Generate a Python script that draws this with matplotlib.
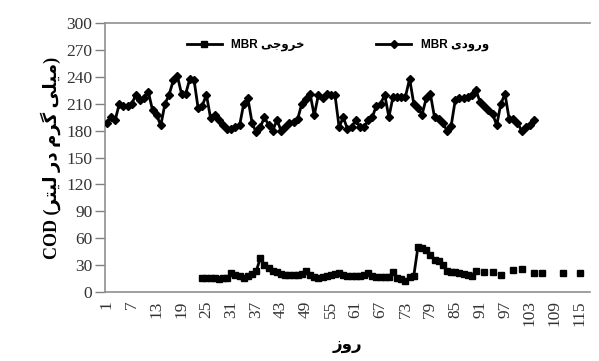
import numpy as np
import matplotlib
matplotlib.use("Agg")
import matplotlib.pyplot as plt

# ---------------- data ----------------
days = list(range(1, 118))
tick_days = list(range(1, 116, 6))
y_ticks = list(range(0, 301, 30))

influent = [189, 195, 192, 210, 207, 208, 210, 220, 214, 216,
            223, 203, 197, 186, 210, 220, 236, 241, 221, 221,
            238, 237, 205, 208, 220, 194, 197, 192, 186, 182,
            182, 184, 186, 210, 216, 189, 178, 184, 195, 186,
            180, 192, 180, 184, 189, 190, 193, 210, 215, 221,
            197, 220, 216, 221, 220, 220, 184, 195, 182, 184,
            192, 184, 184, 192, 195, 208, 210, 220, 195, 218,
            218, 218, 218, 238, 210, 205, 198, 216, 221, 195,
            193, 189, 180, 185, 214, 216, 217, 218, 220, 225,
            212, 208, 203, 199, 186, 210, 221, 193, 193, 189,
            180, 184, 186, 192]

effluent_start = 24
effluent_cont = [16, 16, 16, 16, 14, 16, 16, 21, 19, 18,
                 16, 18, 20, 23, 38, 30, 27, 24, 22, 20,
                 19, 19, 19, 19, 20, 24, 19, 17, 16, 17,
                 18, 19, 20, 21, 19, 18, 18, 18, 18, 19,
                 21, 18, 17, 17, 17, 17, 22, 16, 14, 12,
                 17, 18, 50, 49, 47, 41, 36, 35, 30, 24,
                 22, 22, 21, 20, 19, 18, 24]
effluent_extra_days = [92, 94, 96, 99, 101, 104, 106, 111, 115]
effluent_extra_vals = [22, 22, 19, 25, 26, 21.5, 21, 21.5, 21.5]

inf_series = np.full(len(days), np.nan)
inf_series[:len(influent)] = influent
eff_series = np.full(len(days), np.nan)
eff_series[effluent_start - 1:effluent_start - 1 + len(effluent_cont)] = effluent_cont
for d, v in zip(effluent_extra_days, effluent_extra_vals):
    eff_series[d - 1] = v

# Persian labels (presentation forms in visual order)
lbl_in = "MBR " + "\uFEEF\uFEA9\uFEED\uFEAD\uFEED"        # ورودی MBR
lbl_out = "MBR " + "\uFEF0\uFE9F\uFEED\uFEAE\uFEA7"       # خروجی MBR
x_label = "\uFEAF\uFEED\uFEAD"                            # روز
y_label = ("COD (" + "\uFEAE\uFE98\uFEF4\uFEDF" + " " + "\uFEAD\uFEA9" + " "
           + "\uFEE1\uFEAE\uFB94" + " " + "\uFEF0\uFEE0\uFEF4\uFEE3" + ")")

# ---------------- figure ----------------
fig = plt.figure(figsize=(5.99, 3.61), dpi=100)
ax = fig.add_axes([0.175, 0.191, 0.81, 0.745])

ax.plot(days, eff_series, color="black", lw=2.0, marker="s", ms=4.0,
        label=lbl_out, zorder=3)
ax.plot(days, inf_series, color="black", lw=2.0, marker="D", ms=4.2,
        label=lbl_in, zorder=3)

ax.set_xlim(0.5, 117.5)
ax.set_ylim(0, 300)
ax.set_yticks(y_ticks)
ax.set_xticks(tick_days)
ax.set_xticklabels([str(d) for d in tick_days], rotation=90,
                   fontfamily="Liberation Serif", fontsize=12.5, color="#333333")
ax.set_yticklabels([str(v) for v in y_ticks],
                   fontfamily="Liberation Serif", fontsize=12.5, color="#333333")
ax.tick_params(axis="y", direction="out", length=7, width=1, color="#808080", pad=2)
ax.tick_params(axis="x", length=0, pad=6)

for s in ["left", "bottom", "top"]:
    ax.spines[s].set_color("#909090")
    ax.spines[s].set_linewidth(1.2)
ax.spines["right"].set_visible(False)

ax.set_ylabel(y_label, family=["Liberation Serif", "DejaVu Sans"],
              fontsize=13, fontweight="bold", labelpad=4)
ax.set_xlabel(x_label, family=["DejaVu Sans"], fontsize=12,
              fontweight="bold", labelpad=6)

leg = ax.legend(loc="center", bbox_to_anchor=(0.48, 0.918), ncol=2,
                frameon=False, handlelength=3.0, columnspacing=6.0,
                prop={"family": ["Liberation Sans", "DejaVu Sans"],
                      "size": 8.5, "weight": "bold"})

fig.savefig("out.png", dpi=100)
